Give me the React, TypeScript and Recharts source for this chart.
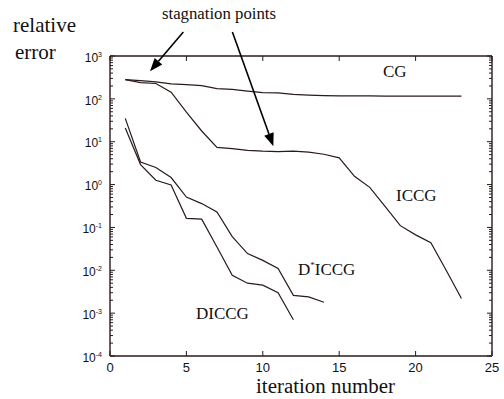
import React from "react";
import { LineChart, Line, XAxis, YAxis, ReferenceLine } from "recharts";

const iterations = [1, 2, 3, 4, 5, 6, 7, 8, 9, 10, 11, 12, 13, 14, 15, 16, 17, 18, 19, 20, 21, 22, 23];
const cg = [282, 267, 248, 224, 215, 204, 174, 167, 152, 140, 138, 127, 122, 119, 117, 117, 117, 116, 116, 116, 116, 116, 116];
const iccg = [282, 240, 228, 143, 49, 17.8, 7.4, 6.9, 6.3, 6.0, 5.9, 6.0, 5.7, 5.1, 4.2, 1.56, 0.86, 0.31, 0.11, 0.067, 0.044, 0.01, 0.0022];
const dstarIccg = [35, 3.37, 2.5, 1.46, 0.51, 0.36, 0.23, 0.061, 0.0246, 0.017, 0.011, 0.0026, 0.0024, 0.0018];
const diccg = [21, 2.93, 1.26, 0.98, 0.163, 0.156, 0.035, 0.0076, 0.005, 0.0045, 0.003, 0.0007];

const xTicks = [0, 5, 10, 15, 20, 25];
const yMajor = [1e-4, 1e-3, 1e-2, 1e-1, 1, 10, 100, 1000];
const yExponents = ["-4", "-3", "-2", "-1", "0", "1", "2", "3"];
const yMinor: number[] = [];
yMajor.slice(0, -1).forEach((m) => {
  for (let k = 2; k <= 9; k++) yMinor.push(m * k);
});
const yTicks = [...yMajor, ...yMinor].sort((a, b) => a - b);

// arrows from the "stagnation points" note, in data coordinates
const arrow1 = [{ x: 4.8, y: 3630 }, { x: 2.62, y: 441 }];
const arrow2 = [{ x: 8.01, y: 3630 }, { x: 10.69, y: 7.83 }];

const data = iterations.map((x, i) => ({
  x,
  cg: cg[i],
  iccg: iccg[i],
  dstar: dstarIccg[i],
  diccg: diccg[i],
}));

const INK = "#2a1a1a";
const SERIF = "'Liberation Serif', 'Times New Roman', serif";
const SANS = "'Liberation Sans', Arial, sans-serif";

// plot box (follows from the chart margins and axis sizes below)
const LEFT = 110;
const RIGHT = 492;
const TOP = 56;
const BOTTOM = 356;

const majorIndex = (v: number) => yMajor.findIndex((m) => Math.abs(m - v) / m < 1e-6);

const LeftTick = (props: any) => {
  const { y, payload } = props;
  const idx = majorIndex(payload.value);
  const major = idx >= 0;
  return (
    <g>
      <line x1={LEFT} y1={y} x2={LEFT + (major ? 5 : 3)} y2={y} stroke={INK} strokeWidth={1} />
      <line x1={RIGHT} y1={y} x2={RIGHT - (major ? 5 : 3)} y2={y} stroke={INK} strokeWidth={1} />
      {major && (
        <text x={102} y={y + 5.7} textAnchor="end" fontFamily={SANS} fontSize={12} fill="#111">
          10
          <tspan dy={-5} fontSize={7}>{yExponents[idx]}</tspan>
        </text>
      )}
    </g>
  );
};

const BottomTick = (props: any) => {
  const { x, payload } = props;
  return (
    <g>
      <line x1={x} y1={BOTTOM} x2={x} y2={BOTTOM - 5} stroke={INK} strokeWidth={1} />
      <line x1={x} y1={TOP} x2={x} y2={TOP + 5} stroke={INK} strokeWidth={1} />
      <text x={x} y={372} textAnchor="middle" fontFamily={SANS} fontSize={13} fill="#111">
        {payload.value}
      </text>
    </g>
  );
};

const Arrow = (props: any) => {
  const { x1, y1, x2, y2 } = props;
  if ([x1, y1, x2, y2].some((v) => typeof v !== "number" || isNaN(v))) return null;
  const dx = x2 - x1;
  const dy = y2 - y1;
  const len = Math.sqrt(dx * dx + dy * dy);
  const ux = dx / len;
  const uy = dy / len;
  const hl = 13;
  const hw = 5;
  const bx = x2 - ux * hl;
  const by = y2 - uy * hl;
  const pts = `${x2},${y2} ${bx - uy * hw},${by + ux * hw} ${bx + uy * hw},${by - ux * hw}`;
  return (
    <g>
      <line x1={x1} y1={y1} x2={bx} y2={by} stroke="#000" strokeWidth={1.6} />
      <polygon points={pts} fill="#000" />
    </g>
  );
};

const frame = { stroke: INK, strokeWidth: 1.4, ifOverflow: "visible" as const };

export default function App() {
  return (
    <div style={{ position: "absolute", left: 0, top: 0, width: 504, height: 399, background: "#fff" }}>
      <LineChart width={504} height={399} data={data} margin={{ top: TOP, right: 504 - RIGHT, bottom: 0, left: 0 }}>
        <XAxis
          xAxisId="bottom"
          dataKey="x"
          type="number"
          domain={[0, 25]}
          ticks={xTicks}
          interval={0}
          height={399 - BOTTOM}
          tickSize={0}
          tickMargin={0}
          tick={<BottomTick />}
          axisLine={false}
        />
        <YAxis
          yAxisId="left"
          type="number"
          scale="log"
          domain={[1e-4, 1e3]}
          allowDataOverflow
          ticks={yTicks}
          interval={0}
          width={LEFT}
          tickSize={0}
          tickMargin={0}
          tick={<LeftTick />}
          axisLine={false}
        />
        <ReferenceLine xAxisId="bottom" yAxisId="left" x={0} {...frame} />
        <ReferenceLine xAxisId="bottom" yAxisId="left" x={25} {...frame} />
        <ReferenceLine xAxisId="bottom" yAxisId="left" y={1e-4} {...frame} />
        <ReferenceLine xAxisId="bottom" yAxisId="left" y={1e3} {...frame} />
        <Line xAxisId="bottom" yAxisId="left" type="linear" dataKey="cg" stroke={INK} strokeWidth={1.2} dot={false} isAnimationActive={false} />
        <Line xAxisId="bottom" yAxisId="left" type="linear" dataKey="iccg" stroke={INK} strokeWidth={1.2} dot={false} isAnimationActive={false} />
        <Line xAxisId="bottom" yAxisId="left" type="linear" dataKey="dstar" stroke={INK} strokeWidth={1.2} dot={false} isAnimationActive={false} />
        <Line xAxisId="bottom" yAxisId="left" type="linear" dataKey="diccg" stroke={INK} strokeWidth={1.2} dot={false} isAnimationActive={false} />
        <ReferenceLine xAxisId="bottom" yAxisId="left" segment={arrow1} ifOverflow="visible" shape={<Arrow />} />
        <ReferenceLine xAxisId="bottom" yAxisId="left" segment={arrow2} ifOverflow="visible" shape={<Arrow />} />

        <text x={13} y={32} fontFamily={SERIF} fontSize={21} fill="#111">relative</text>
        <text x={15} y={59} fontFamily={SERIF} fontSize={21} fill="#111">error</text>
        <text x={162} y={19} fontFamily={SERIF} fontSize={16} fill="#111" textLength={114} lengthAdjust="spacingAndGlyphs">
          stagnation points
        </text>
        <text x={383} y={77} fontFamily={SERIF} fontSize={17} fill="#111">CG</text>
        <text x={396} y={201} fontFamily={SERIF} fontSize={17} fill="#111">ICCG</text>
        <text x={298} y={275} fontFamily={SERIF} fontSize={17} fill="#111">
          D<tspan dy={-7} fontSize={9}>*</tspan>
          <tspan dy={7}>ICCG</tspan>
        </text>
        <text x={196} y={319} fontFamily={SERIF} fontSize={17} fill="#111">DICCG</text>
        <text x={256} y={393} fontFamily={SERIF} fontSize={20} fill="#111" textLength={139} lengthAdjust="spacingAndGlyphs">
          iteration number
        </text>
      </LineChart>
    </div>
  );
}
